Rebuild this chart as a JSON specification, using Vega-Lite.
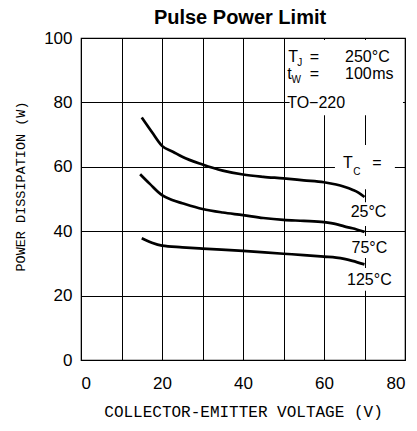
{
  "$schema": "https://vega.github.io/schema/vega-lite/v6.json",
  "autosize": {"type": "none"},
  "padding": {"left": 81, "top": 38, "right": 12, "bottom": 71},
  "width": 324,
  "height": 322,
  "background": "white",
  "title": {
    "text": "Pulse Power Limit",
    "font": "Liberation Sans",
    "fontSize": 20,
    "fontWeight": "bold",
    "color": "black",
    "anchor": "middle",
    "baseline": "alphabetic",
    "offset": -15,
    "dx": -3
  },
  "config": {
    "view": {"stroke": "black", "strokeWidth": 1.2},
    "axis": {
      "grid": true,
      "gridColor": "black",
      "gridOpacity": 1,
      "gridWidth": 1,
      "ticks": false,
      "domain": false,
      "labelFont": "Liberation Sans",
      "labelFontSize": 17,
      "labelColor": "black",
      "titleFont": "Liberation Mono",
      "titleFontWeight": "normal",
      "titleColor": "black"
    }
  },
  "datasets": {
    "curves": [
      {"series": "25", "v": 15, "p": 75.3},
      {"series": "25", "v": 17.5, "p": 70.8},
      {"series": "25", "v": 20, "p": 66.5},
      {"series": "25", "v": 22.8, "p": 64.6},
      {"series": "25", "v": 25, "p": 63.1},
      {"series": "25", "v": 30, "p": 60.7},
      {"series": "25", "v": 35, "p": 58.8},
      {"series": "25", "v": 40, "p": 57.6},
      {"series": "25", "v": 45, "p": 56.9},
      {"series": "25", "v": 50, "p": 56.4},
      {"series": "25", "v": 55, "p": 55.8},
      {"series": "25", "v": 60, "p": 55.2},
      {"series": "25", "v": 63, "p": 54.5},
      {"series": "25", "v": 65, "p": 53.8},
      {"series": "25", "v": 67, "p": 52.9},
      {"series": "25", "v": 68.5, "p": 52.0},
      {"series": "25", "v": 70, "p": 50.6},
      {"series": "75", "v": 14.6, "p": 57.7},
      {"series": "75", "v": 17, "p": 54.7},
      {"series": "75", "v": 20, "p": 51.2},
      {"series": "75", "v": 22.5, "p": 49.7},
      {"series": "75", "v": 25, "p": 48.7},
      {"series": "75", "v": 30, "p": 46.9},
      {"series": "75", "v": 35, "p": 45.8},
      {"series": "75", "v": 40, "p": 45.0},
      {"series": "75", "v": 45, "p": 44.1},
      {"series": "75", "v": 50, "p": 43.5},
      {"series": "75", "v": 55, "p": 43.2},
      {"series": "75", "v": 60, "p": 42.8},
      {"series": "75", "v": 63, "p": 42.2},
      {"series": "75", "v": 65, "p": 41.5},
      {"series": "75", "v": 67, "p": 40.9},
      {"series": "75", "v": 70, "p": 39.8},
      {"series": "125", "v": 15, "p": 37.8},
      {"series": "125", "v": 17.5, "p": 36.4},
      {"series": "125", "v": 20, "p": 35.5},
      {"series": "125", "v": 25, "p": 35.0},
      {"series": "125", "v": 30, "p": 34.6},
      {"series": "125", "v": 40, "p": 33.9},
      {"series": "125", "v": 50, "p": 33.0},
      {"series": "125", "v": 55, "p": 32.6},
      {"series": "125", "v": 60, "p": 32.1},
      {"series": "125", "v": 63, "p": 31.8},
      {"series": "125", "v": 65, "p": 31.4},
      {"series": "125", "v": 67, "p": 30.8},
      {"series": "125", "v": 70, "p": 29.7}
    ],
    "boxes": [
      {"x1": 51.5, "x2": 79.5, "y1": 76, "y2": 99.4},
      {"x1": 62.7, "x2": 77.5, "y1": 53, "y2": 66.8},
      {"x1": 65, "x2": 77.5, "y1": 41.6, "y2": 49},
      {"x1": 65, "x2": 77.5, "y1": 31.7, "y2": 38.5},
      {"x1": 64.5, "x2": 78, "y1": 21.5, "y2": 28.6}
    ],
    "notes": [
      {"t": "T", "x": 51.2, "y": 92.4, "role": "main"},
      {"t": "=", "x": 56.5, "y": 92.4, "role": "main"},
      {"t": "250°C", "x": 65.2, "y": 92.4, "role": "main"},
      {"t": "J", "x": 53.4, "y": 91.4, "role": "sub"},
      {"t": "t", "x": 50.9, "y": 87.3, "role": "main"},
      {"t": "W", "x": 52.0, "y": 86.0, "role": "sub"},
      {"t": "=", "x": 56.5, "y": 87.3, "role": "main"},
      {"t": "100", "x": 65.2, "y": 87.3, "role": "main"},
      {"t": "ms", "x": 71.9, "y": 87.3, "role": "main"},
      {"t": "TO−220", "x": 50.9, "y": 78.2, "role": "main"},
      {"t": "T", "x": 64.7, "y": 59.6, "role": "main"},
      {"t": "C", "x": 67.2, "y": 57.5, "role": "sub"},
      {"t": "=", "x": 71.9, "y": 59.6, "role": "main"},
      {"t": "25°C", "x": 71, "y": 44.5, "role": "temp"},
      {"t": "75°C", "x": 71.2, "y": 33.3, "role": "temp"},
      {"t": "125°C", "x": 71.2, "y": 23.3, "role": "temp"}
    ]
  },
  "layer": [
    {
      "data": {"name": "boxes"},
      "mark": {"type": "rect", "fill": "white", "strokeWidth": 0},
      "encoding": {
        "x": {
          "field": "x1", "type": "quantitative",
          "scale": {"domain": [0, 80], "nice": false},
          "axis": {
            "values": [0, 10, 20, 30, 40, 50, 60, 70, 80],
            "labelExpr": "datum.value % 20 === 0 ? datum.label : ''",
            "labelPadding": 15,
            "title": "COLLECTOR-EMITTER VOLTAGE (V)",
            "titleFontSize": 16,
            "titlePadding": 12
          }
        },
        "x2": {"field": "x2"},
        "y": {
          "field": "y1", "type": "quantitative",
          "scale": {"domain": [0, 100], "nice": false},
          "axis": {
            "values": [0, 10, 20, 30, 40, 50, 60, 70, 80, 90, 100],
            "labelExpr": "datum.value % 20 === 0 ? datum.label : ''",
            "labelPadding": 9,
            "title": "POWER DISSIPATION (W)",
            "titleFontSize": 13.5,
            "titlePadding": 16,
            "titleY": 148
          }
        },
        "y2": {"field": "y2"}
      }
    },
    {
      "data": {"name": "curves"},
      "mark": {"type": "line", "color": "black", "strokeWidth": 2.7, "interpolate": "monotone"},
      "encoding": {
        "x": {"field": "v", "type": "quantitative"},
        "y": {"field": "p", "type": "quantitative"},
        "detail": {"field": "series"}
      }
    },
    {
      "data": {"name": "notes"},
      "transform": [{"filter": "datum.role === 'main'"}],
      "mark": {"type": "text", "align": "left", "baseline": "alphabetic", "font": "Liberation Sans", "fontSize": 16, "color": "black"},
      "encoding": {
        "x": {"field": "x", "type": "quantitative"},
        "y": {"field": "y", "type": "quantitative"},
        "text": {"field": "t"}
      }
    },
    {
      "data": {"name": "notes"},
      "transform": [{"filter": "datum.role === 'sub'"}],
      "mark": {"type": "text", "align": "left", "baseline": "alphabetic", "font": "Liberation Sans", "fontSize": 10, "color": "black"},
      "encoding": {
        "x": {"field": "x", "type": "quantitative"},
        "y": {"field": "y", "type": "quantitative"},
        "text": {"field": "t"}
      }
    },
    {
      "data": {"name": "notes"},
      "transform": [{"filter": "datum.role === 'temp'"}],
      "mark": {"type": "text", "align": "center", "baseline": "alphabetic", "font": "Liberation Sans", "fontSize": 16, "color": "black"},
      "encoding": {
        "x": {"field": "x", "type": "quantitative"},
        "y": {"field": "y", "type": "quantitative"},
        "text": {"field": "t"}
      }
    }
  ]
}
